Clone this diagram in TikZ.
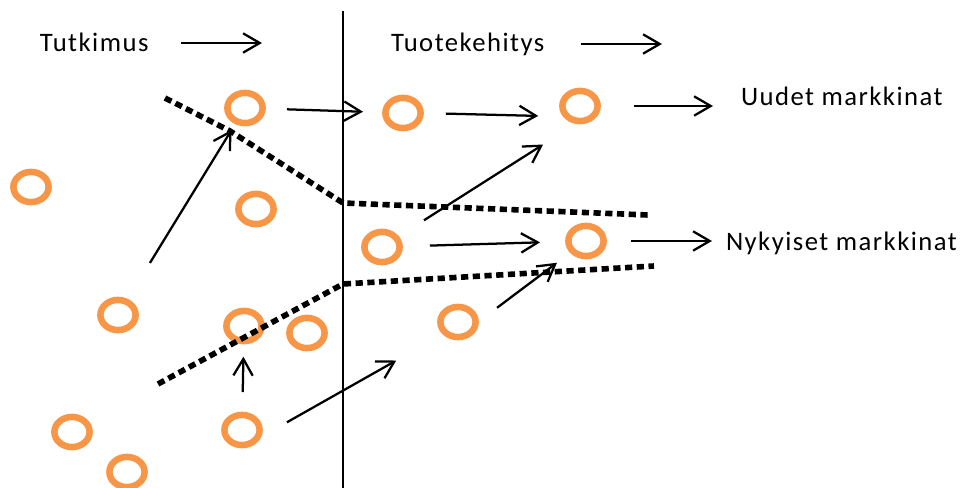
\documentclass[tikz,border=0pt]{standalone}
\usepackage{fontspec}
\setmainfont{Carlito}[LetterSpace=5.5]
\usetikzlibrary{arrows.meta,shapes.geometric}
\definecolor{ideaorange}{RGB}{247,150,70}

\begin{document}
\begin{tikzpicture}[x=.75pt,y=-.75pt,
    every node/.style={font=\fontsize{20}{24}\selectfont,inner sep=0pt,outer sep=0pt},
    idea/.style={ellipse,draw=ideaorange,line width=4.9pt,minimum width=26.4pt,minimum height=22.6pt},
    flow/.style={line width=1.7pt,-{Straight Barb[length=12.5pt,width=14.5pt]}},
    funnel/.style={line width=4.2pt,dash pattern=on 5.4pt off 3.4pt}]
    \useasboundingbox (0,0) rectangle (961,488);
    % phase headings
    \node[anchor=base west] (research) at (40,52) {Tutkimus};
    \node[anchor=base west] (develop) at (391,52) {Tuotekehitys};
    \coordinate (researchA) at (181,43);
    \coordinate (researchB) at (262,43);
    \coordinate (developA) at (581,44);
    \coordinate (developB) at (662,44);
    \draw[flow] (researchA) -- (researchB);
    \draw[flow] (developA) -- (developB);
    \draw[line width=1.7pt] (343,11) -- (343,488);
    % ideas
    \node[idea] (c1) at (245,108) {};
    \node[idea] (c2) at (403,113) {};
    \node[idea] (c3) at (580,106) {};
    \node[idea] (c4) at (31,187) {};
    \node[idea] (c5) at (256,209) {};
    \node[idea] (c6) at (382,247) {};
    \node[idea] (c7) at (586,241) {};
    \node[idea] (c8) at (118,315) {};
    \node[idea] (c9) at (244,326) {};
    \node[idea] (c10) at (307,333) {};
    \node[idea] (c11) at (458,322) {};
    \node[idea] (c12) at (72,432) {};
    \node[idea] (c13) at (242,430) {};
    \node[idea] (c14) at (127,472) {};
    % markets
    \node[anchor=base west] (uudet) at (741,106) {Uudet markkinat};
    \node[anchor=base west] (nykyiset) at (726,251) {Nykyiset markkinat};
    % funnel borders
    \draw[funnel] (165,98) -- (230,131) -- (343,203) -- (648,215);
    \draw[funnel] (158,384) -- (343,284) -- (654,266);
    % paths of the ideas
    \draw[flow,shorten <=31.5pt,shorten >=30pt] (c1.center) -- (c2.center);
    \draw[flow,shorten <=19pt,shorten >=22pt] (c2.east) -- (c3.south west);
    \draw[flow,shorten <=37.3pt,shorten >=32.8pt] (c6.center) -- (c3.south);
    \draw[flow,shorten <=45.8pt,shorten >=19.3pt] (c8.center) -- (c1.center);
    \draw[flow,shorten <=36pt,shorten >=34.5pt] (c6.center) -- (c7.center);
    \draw[flow,shorten <=36.6pt,shorten >=27.2pt] (c11.south) -- (c7.center);
    \draw[flow,shorten <=28.5pt,shorten >=23pt] (c13.center) -- (c9.center);
    \draw[flow,shorten <=28pt,shorten >=42.5pt] (c13.south east) -- (c11.south west);
    \draw[flow,shorten <=40.5pt,shorten >=21pt] (c3.center) -- (c3.center -| uudet.west);
    \draw[flow,shorten <=33.75pt,shorten >=10.5pt] (c7.center) -- (c7.center -| nykyiset.west);
\end{tikzpicture}
\end{document}
